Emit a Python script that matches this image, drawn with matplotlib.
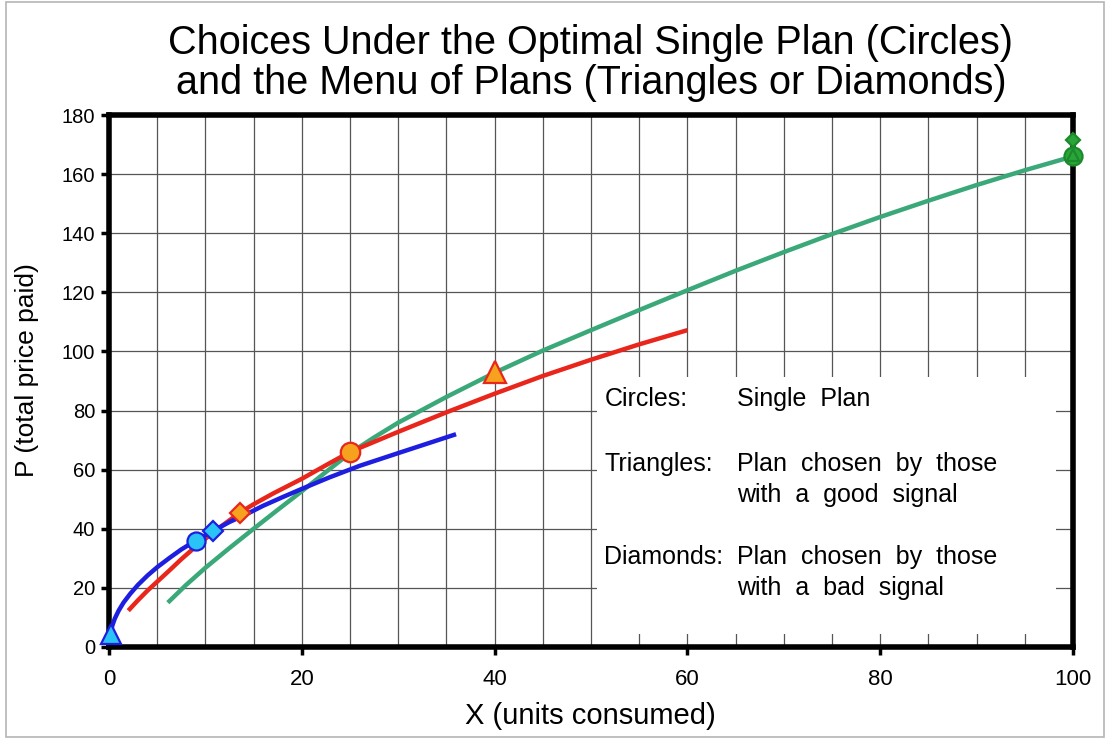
import numpy as np
import matplotlib
matplotlib.use("Agg")
import matplotlib.pyplot as plt
from matplotlib.patches import Rectangle

plt.rcParams['font.family'] = ['Liberation Sans', 'DejaVu Sans']

# curves
blue_x = [0.2, 0.35, 0.6, 1.0, 1.5, 2.2, 3.0, 4.0, 5.0, 6.3, 7.5, 9.0, 10.8, 12.5, 14.3, 16, 18,
          20, 22.8, 26, 30, 33, 36]
blue_y = [5, 7.3, 9.6, 12.3, 15, 18, 21, 24.2, 27, 30.2, 33, 36, 39.3, 42.3, 45, 47.8, 50.7,
          53.5, 57.3, 61.3, 65.6, 68.8, 72]

red_x = [2.0, 3, 4, 5.2, 6.2, 7.5, 9, 11, 13.6, 15, 17, 20, 22.5, 25, 30, 35, 40, 45, 50, 55, 60]
red_y = [12.3, 15.8, 19.1, 22.7, 25.7, 29.7, 34, 39.3, 45.5, 48.3, 51.9, 56.9, 61.5, 66,
         72.8, 79.4, 85.7, 91.7, 97.2, 102.4, 107.2]

green_x = [6.1, 8, 10, 12.5, 15, 17.5, 20, 22.5, 25, 27.5, 30, 35, 40, 45, 50, 55, 60,
           65, 70, 75, 80, 85, 90, 95, 100]
green_y = [15, 21, 26.8, 33.5, 40, 46.4, 52.7, 59.2, 65.6, 70.9, 75.9, 84.6, 92.8, 100.3, 107.2,
           114, 120.7, 127.3, 133.6, 139.7, 145.5, 151, 156.3, 161.3, 166]

# chosen plans
blue_pts = {'tri': (0.2, 4.5), 'circ': (9.0, 36), 'diam': (10.8, 39.3)}
orange_pts = {'tri': (40, 93), 'circ': (25, 66), 'diam': (13.6, 45.5)}
green_pts = {'tri': (100, 166.5), 'circ': (100, 166), 'diam': (100, 171.5)}

title = "Choices Under the Optimal Single Plan (Circles)\nand the Menu of Plans (Triangles or Diamonds)"
x_label = "X (units consumed)"
y_label = "P (total price paid)"

note_keys = ["Circles:", "Triangles:", "Diamonds:"]
note_lines = [["Single  Plan"],
              ["Plan  chosen  by  those", "with  a  good  signal"],
              ["Plan  chosen  by  those", "with  a  bad  signal"]]

BLUE = '#1e1ee0'
LBLUE = '#2ac3f5'
RED = '#e8261c'
ORANGE = '#f6a21e'
GREEN = '#3aa878'
DGREEN = '#2aa53a'

fig = plt.figure(figsize=(11.1, 7.4), dpi=100)
ax = fig.add_axes([109/1110, 93/740, 964/1110, 532/740])

ax.set_xlim(0, 100)
ax.set_ylim(0, 180)
ax.set_xticks(np.arange(0, 101, 20))
ax.set_xticks(np.arange(0, 101, 5), minor=True)
ax.set_yticks(np.arange(0, 181, 20))
ax.set_axisbelow(True)
ax.grid(True, which='both', axis='x', color='#555555', lw=0.9)
ax.grid(True, which='major', axis='y', color='#555555', lw=0.9)
ax.tick_params(which='minor', length=0)
ax.tick_params(axis='both', which='major', direction='out', length=6, width=2.5, color='black')
ax.tick_params(axis='x', labelsize=16, pad=10)
ax.tick_params(axis='y', labelsize=14.5, pad=4)
for s in ax.spines.values():
    s.set_linewidth(4)
    s.set_color('black')

# white box for the notes
ax.add_patch(Rectangle((50.6, 4.5), 47.6, 86.7, facecolor='white', edgecolor='none', zorder=1))

ax.plot(green_x, green_y, color=GREEN, lw=3.2, zorder=3, solid_capstyle='butt')
ax.plot(red_x, red_y, color=RED, lw=3.2, zorder=4, solid_capstyle='butt')
ax.plot(blue_x, blue_y, color=BLUE, lw=3.2, zorder=5, solid_capstyle='butt')

def marks(pts, fc, ec, sizes):
    for key, mk in [('circ', 'o'), ('tri', '^'), ('diam', 'D')]:
        x, y = pts[key]
        ax.plot([x], [y], marker=mk, ms=sizes[key], mfc=fc, mec=ec, mew=1.6,
                ls='none', zorder=8, clip_on=False)

marks(blue_pts, LBLUE, BLUE, {'circ': 13, 'tri': 15, 'diam': 10})
marks(orange_pts, ORANGE, RED, {'circ': 14, 'tri': 15.5, 'diam': 10})
marks(green_pts, DGREEN, '#1b8a2b', {'circ': 13, 'tri': 9, 'diam': 7.5})

# notes, one text per line, on baselines
key_base = [81.5, 59.6, 28.0]
line_step = 10.4
for k, lines, y in zip(note_keys, note_lines, key_base):
    ax.text(51.4, y, k, fontsize=18, va='baseline', ha='left', zorder=9)
    for i, t in enumerate(lines):
        ax.text(65.1, y - i * line_step, t, fontsize=18, va='baseline', ha='left', zorder=9)

fig.text(591/1110, 1 - 63/740, title, fontsize=28.5, ha='center', va='center', linespacing=1.05)
fig.text(590/1110, 1 - 716/740, x_label, fontsize=21, ha='center', va='center')
fig.text(27/1110, 1 - 370/740, y_label, fontsize=19, ha='center', va='center', rotation=90)

# thin frame around the picture
fig.add_artist(Rectangle((6/1110, 3/740), 1098/1110, 735/740, transform=fig.transFigure,
                         facecolor='none', edgecolor='#b5b5b5', lw=1.2))

fig.savefig('out.png', dpi=100)
